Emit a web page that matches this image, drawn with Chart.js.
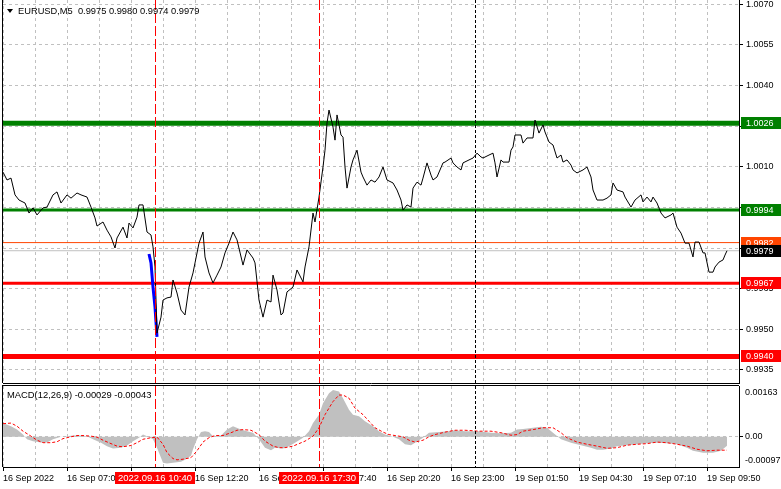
<!DOCTYPE html>
<html>
<head>
<meta charset="utf-8">
<script src="https://cdn.jsdelivr.net/npm/chart.js@4.4.0/dist/chart.umd.min.js"></script>
<style>
  html, body { margin: 0; padding: 0; background: #fff; }
  #wrap { position: relative; width: 781px; height: 489px; overflow: hidden; }
  #priceBox { position: absolute; left: 0; top: 0; width: 781px; height: 384px; }
  #macdBox { position: absolute; left: 0; top: 384px; width: 781px; height: 105px; }
</style>
</head>
<body>
<div id="wrap">
  <div id="priceBox"><canvas id="priceChart" width="781" height="384"></canvas></div>
  <div id="macdBox"><canvas id="macdChart" width="781" height="105"></canvas></div>
</div>
<script>
// EURUSD M5 - x is counted in 5 minute bars from the left edge of the window
const barCount = 368;
const headerQuote = ['0.9975', '0.9980', '0.9974', '0.9979'];

const closeBars = [
  0, 2, 4, 6, 8, 11, 13, 15, 17, 20, 22, 25, 27, 29, 32, 34, 37, 39, 42, 44,
  46, 47, 50, 52, 54, 56, 57, 60, 62, 63, 65, 67, 68, 70, 72, 74, 75, 76, 77, 79,
  80, 82, 84, 85, 87, 89, 91, 93, 95, 96, 98, 100, 101, 103, 105, 107, 109, 111, 113, 115,
  117, 120, 122, 125, 126, 128, 130, 132, 134, 135, 137, 139, 140, 142, 145, 147, 150, 151, 153, 155,
  156, 158, 160, 161, 162, 163, 165, 166, 167, 169, 170, 171, 172, 174, 175, 177, 179, 180, 182, 184,
  186, 188, 190, 192, 195, 197, 199, 200, 202, 204, 205, 207, 209, 210, 212, 214, 215, 217, 220, 221,
  224, 225, 227, 229, 230, 233, 235, 237, 239, 240, 243, 245, 246, 247, 249, 250, 253, 254, 255, 256,
  259, 260, 262, 265, 266, 268, 270, 271, 273, 275, 277, 279, 280, 282, 284, 285, 287, 290, 292, 294,
  295, 297, 300, 302, 304, 305, 307, 310, 311, 314, 316, 319, 320, 322, 324, 325, 327, 329, 331, 334,
  335, 337, 339, 341, 343, 345, 346, 348, 350, 351, 353, 355, 356, 358, 360, 361, 362
];
const closePrices = [
  1.00080, 1.00051, 1.00058, 0.99996, 0.99977, 0.99966, 0.99929, 0.99948, 0.99922, 0.99948,
  0.99951, 0.99996, 1.00007, 0.99966, 0.99996, 0.99984, 1.00003, 0.99996, 0.99988, 0.99951,
  0.99911, 0.99881, 0.99896, 0.99866, 0.99841, 0.99800, 0.99837, 0.99877, 0.99837, 0.99892,
  0.99874, 0.99914, 0.99959, 0.99959, 0.99859, 0.99848, 0.99804, 0.99730, 0.99486, 0.99545,
  0.99608, 0.99616, 0.99619, 0.99682, 0.99634, 0.99571, 0.99553, 0.99656, 0.99708, 0.99745,
  0.99818, 0.99859, 0.99767, 0.99708, 0.99671, 0.99700, 0.99730, 0.99782, 0.99818, 0.99859,
  0.99830, 0.99737, 0.99793, 0.99763, 0.99745, 0.99608, 0.99545, 0.99608, 0.99601, 0.99700,
  0.99645, 0.99553, 0.99560, 0.99638, 0.99656, 0.99719, 0.99675, 0.99730, 0.99804, 0.99929,
  0.99896, 0.99988, 1.00099, 1.00161, 1.00261, 1.00309, 1.00246, 1.00198, 1.00291, 1.00217,
  1.00209, 1.00099, 1.00021, 1.00099, 1.00125, 1.00161, 1.00080, 1.00062, 1.00032, 1.00051,
  1.00043, 1.00062, 1.00099, 1.00051, 1.00040, 1.00014, 0.99977, 0.99940, 0.99959, 0.99951,
  1.00021, 1.00043, 1.00032, 1.00058, 1.00114, 1.00069, 1.00051, 1.00062, 1.00114, 1.00117,
  1.00132, 1.00114, 1.00099, 1.00088, 1.00114, 1.00125, 1.00132, 1.00150, 1.00136, 1.00132,
  1.00143, 1.00150, 1.00114, 1.00062, 1.00125, 1.00117, 1.00117, 1.00161, 1.00173, 1.00217,
  1.00217, 1.00187, 1.00206, 1.00206, 1.00272, 1.00224, 1.00254, 1.00228, 1.00191, 1.00180,
  1.00132, 1.00143, 1.00117, 1.00125, 1.00106, 1.00088, 1.00077, 1.00088, 1.00099, 1.00062,
  1.00014, 0.99977, 0.99977, 0.99984, 0.99996, 1.00040, 1.00014, 1.00007, 0.99988, 0.99951,
  0.99977, 0.99996, 0.99970, 0.99988, 0.99970, 0.99988, 0.99966, 0.99929, 0.99911, 0.99922,
  0.99929, 0.99877, 0.99855, 0.99818, 0.99818, 0.99767, 0.99822, 0.99822, 0.99782, 0.99782,
  0.99711, 0.99711, 0.99730, 0.99748, 0.99756, 0.99774, 0.99790
];

// blue trend line drawn on the drop at 10:40
const moveBars = [73, 74, 75, 76, 77];
const movePrices = [0.99778, 0.99745, 0.99656, 0.99582, 0.99472];

// horizontal levels: 1.0026 / 0.9994 green, 0.9982 ask, 0.9979 bid, 0.9967 / 0.9940 red
const levelPrices = [1.0026, 0.9994, 0.9982, 0.9979, 0.9967, 0.9940];
const levelText = ['1.0026', '0.9994', '0.9982', '0.9979', '0.9967', '0.9940'];

// vertical markers
const markerBars = [76, 158, 236];
const markerText = ['2022.09.16 10:40', '2022.09.16 17:30', ''];

const priceTicks = [0.9935, 0.9950, 0.9965, 0.9980, 0.9995, 1.0010, 1.0025, 1.0040, 1.0055, 1.0070];
const priceMin = 0.99302, priceMax = 1.00715;

const gridStep = 16;   // bars between vertical grid lines
const labelStep = 32;  // bars between time labels
const timeLabels = ['16 Sep 2022', '16 Sep 07:00', '16 Sep 09:40', '16 Sep 12:20', '16 Sep 15:00', '16 Sep 17:40',
  '16 Sep 20:20', '16 Sep 23:00', '19 Sep 01:50', '19 Sep 04:30', '19 Sep 07:10', '19 Sep 09:50'];

// MACD(12,26,9)
const macdTitle = 'MACD(12,26,9) -0.00029 -0.00043';
const histBars = [
  0, 4, 7, 10, 12, 15, 19, 22, 25, 29, 32, 35, 39, 42, 45, 49, 52, 55, 59, 62,
  65, 68, 70, 72, 75, 77, 79, 80, 82, 85, 89, 91, 94, 95, 97, 99, 101, 103, 105, 109,
  112, 115, 119, 122, 125, 128, 131, 134, 136, 140, 143, 146, 150, 153, 155, 158, 160, 163, 165, 168,
  170, 173, 175, 178, 181, 185, 188, 191, 195, 198, 201, 204, 206, 210, 213, 218, 223, 226, 231, 238,
  244, 249, 254, 257, 260, 265, 269, 272, 275, 279, 284, 289, 294, 297, 300, 304, 307, 312, 317, 322,
  327, 332, 337, 342, 345, 350, 355, 359, 362
];
const histValues = [
  0.00044, 0.00034, 0.00023, 0.00007, -0.00008, -0.00014, -0.00018, -0.00018, -0.00008, 0.00000,
  0.00002, 0.00004, 0.00004, 0.00002, -0.00008, -0.00019, -0.00030, -0.00038, -0.00035, -0.00028,
  -0.00014, -0.00003, 0.00007, 0.00002, -0.00008, -0.00035, -0.00067, -0.00083, -0.00086, -0.00083,
  -0.00080, -0.00074, -0.00061, -0.00040, -0.00008, 0.00015, 0.00018, 0.00015, 0.00002, 0.00004,
  0.00023, 0.00034, 0.00023, 0.00018, 0.00013, -0.00008, -0.00035, -0.00043, -0.00035, -0.00038,
  -0.00030, -0.00019, -0.00003, 0.00018, 0.00044, 0.00071, 0.00108, 0.00140, 0.00150, 0.00145,
  0.00124, 0.00087, 0.00071, 0.00066, 0.00050, 0.00034, 0.00018, 0.00007, 0.00000, -0.00008,
  -0.00024, -0.00027, -0.00019, -0.00003, 0.00013, 0.00015, 0.00018, 0.00021, 0.00018, 0.00018,
  0.00013, 0.00011, 0.00013, 0.00023, 0.00025, 0.00029, 0.00032, 0.00029, 0.00013, -0.00008,
  -0.00019, -0.00027, -0.00035, -0.00042, -0.00042, -0.00038, -0.00030, -0.00027, -0.00024, -0.00021,
  -0.00019, -0.00021, -0.00024, -0.00035, -0.00045, -0.00051, -0.00051, -0.00045, -0.00029
];
const signalBars = [
  0, 4, 7, 10, 14, 17, 20, 24, 27, 30, 34, 37, 40, 44, 47, 50, 54, 57, 60, 64,
  67, 70, 74, 77, 80, 82, 85, 87, 90, 94, 97, 100, 103, 106, 110, 114, 117, 120, 124, 128,
  131, 135, 138, 141, 145, 148, 151, 155, 158, 161, 165, 168, 170, 173, 176, 180, 183, 186, 190, 193,
  196, 200, 203, 206, 210, 213, 216, 221, 226, 231, 238, 244, 249, 254, 257, 260, 265, 270, 275, 279,
  282, 287, 292, 297, 302, 307, 312, 317, 322, 327, 332, 337, 342, 347, 352, 357, 362
];
const signalValues = [
  0.00042, 0.00044, 0.00034, 0.00018, 0.00002, -0.00011, -0.00019, -0.00019, -0.00016, -0.00006,
  0.00000, 0.00004, 0.00004, 0.00002, -0.00001, -0.00011, -0.00022, -0.00030, -0.00032, -0.00028,
  -0.00019, -0.00008, -0.00003, -0.00001, -0.00024, -0.00051, -0.00070, -0.00074, -0.00072, -0.00067,
  -0.00045, -0.00017, -0.00003, 0.00004, 0.00004, 0.00013, 0.00021, 0.00023, 0.00021, 0.00007,
  -0.00014, -0.00030, -0.00035, -0.00035, -0.00030, -0.00022, -0.00014, 0.00002, 0.00029, 0.00071,
  0.00113, 0.00134, 0.00134, 0.00124, 0.00092, 0.00071, 0.00050, 0.00029, 0.00015, 0.00007,
  0.00004, 0.00000, -0.00011, -0.00017, -0.00011, 0.00000, 0.00007, 0.00015, 0.00021, 0.00021,
  0.00018, 0.00018, 0.00013, 0.00005, 0.00007, 0.00018, 0.00023, 0.00029, 0.00029, 0.00013,
  -0.00003, -0.00017, -0.00024, -0.00030, -0.00037, -0.00035, -0.00027, -0.00024, -0.00022, -0.00017,
  -0.00019, -0.00024, -0.00030, -0.00040, -0.00045, -0.00043, -0.00043
];
const macdMin = -0.00097, macdMax = 0.00163;
const macdTickText = ['-0.00097', '0.00', '0.00163'];

const FONT = "'Liberation Sans', Arial, sans-serif";
Chart.defaults.font.family = FONT;
Chart.defaults.font.size = 9;
Chart.defaults.color = '#000';

const levelStyle = [
  { color: '#008000', width: 5, box: '#008000', fg: '#ffffff' },
  { color: '#008000', width: 3, box: '#008000', fg: '#ffffff' },
  { color: '#ff4500', width: 1, box: '#ff4500', fg: '#ffffff' },
  { color: '#c0c0c0', width: 1, box: '#000000', fg: '#ffffff' },
  { color: '#ff0000', width: 3, box: '#ff0000', fg: '#ffffff' },
  { color: '#ff0000', width: 5, box: '#ff0000', fg: '#ffffff' }
];
const markerStyle = [
  { color: '#ff0000', dash: [10, 3] },
  { color: '#ff0000', dash: [10, 3] },
  { color: '#000000', dash: [3, 2] }
];

const gridBars = [];
for (let b = 0; b < barCount; b += gridStep) gridBars.push(b);

function pts(xs, ys) {
  return xs.map((x, i) => ({ x: x, y: ys[i] }));
}

// keep the plot area where the terminal has it: no extra room for edge labels
function noEdgePadding(s) {
  s.paddingTop = 0;
  s.paddingBottom = 0;
  s.paddingLeft = 0;
  s.paddingRight = 0;
}

function drawMarkers(chart) {
  const ctx = chart.ctx, area = chart.chartArea, xs = chart.scales.x;
  ctx.save();
  ctx.lineWidth = 1;
  markerBars.forEach((b, i) => {
    const x = Math.round(xs.getPixelForValue(b)) + 0.5;
    ctx.strokeStyle = markerStyle[i].color;
    ctx.setLineDash(markerStyle[i].dash);
    ctx.beginPath();
    ctx.moveTo(x, area.top);
    ctx.lineTo(x, area.bottom);
    ctx.stroke();
  });
  ctx.restore();
}

function drawFrameLeft(chart, withTop) {
  const ctx = chart.ctx, area = chart.chartArea;
  ctx.save();
  ctx.strokeStyle = '#000';
  ctx.lineWidth = 1;
  ctx.beginPath();
  ctx.moveTo(area.left - 0.5, area.top);
  ctx.lineTo(area.left - 0.5, area.bottom);
  if (withTop) {
    ctx.moveTo(area.left - 1, area.top - 0.5);
    ctx.lineTo(area.right, area.top - 0.5);
  }
  ctx.stroke();
  ctx.restore();
}

const priceDecor = {
  id: 'priceDecor',
  afterDatasetsDraw(chart) {
    drawMarkers(chart);
    drawFrameLeft(chart, false);
  },
  afterDraw(chart) {
    const ctx = chart.ctx, area = chart.chartArea, ys = chart.scales.y;
    ctx.save();
    ctx.font = '9px ' + FONT;
    ctx.textBaseline = 'middle';
    // level price tags on the axis
    levelPrices.forEach((p, i) => {
      const y = Math.round(ys.getPixelForValue(p));
      ctx.fillStyle = levelStyle[i].box;
      ctx.fillRect(area.right + 2, y - 6, chart.width - area.right - 2, 12);
      ctx.fillStyle = levelStyle[i].fg;
      ctx.fillText(levelText[i], area.right + 7, y + 0.5);
    });
    // symbol header
    ctx.fillStyle = '#000';
    ctx.beginPath();
    ctx.moveTo(7, 9);
    ctx.lineTo(13, 9);
    ctx.lineTo(10, 13);
    ctx.closePath();
    ctx.fill();
    ctx.font = '9.3px ' + FONT;
    ctx.fillText('EURUSD,M5  ' + headerQuote.join(' '), 18, 11);
    ctx.restore();
  }
};

const macdDecor = {
  id: 'macdDecor',
  afterDatasetsDraw(chart) {
    drawMarkers(chart);
    drawFrameLeft(chart, true);
  },
  afterDraw(chart) {
    const ctx = chart.ctx, xs = chart.scales.x;
    ctx.save();
    ctx.textBaseline = 'middle';
    ctx.font = '9.4px ' + FONT;
    ctx.fillStyle = '#000';
    ctx.fillText(macdTitle, 7, 11.5);
    // time tags of the vertical markers
    ctx.font = '9.5px ' + FONT;
    ctx.textAlign = 'center';
    markerBars.forEach((b, i) => {
      if (!markerText[i]) return;
      const x = xs.getPixelForValue(b);
      ctx.fillStyle = '#ff0000';
      ctx.fillRect(Math.round(x - 40), 88, 80, 12);
      ctx.fillStyle = '#ffffff';
      ctx.fillText(markerText[i], x, 94.5);
    });
    ctx.restore();
  }
};

new Chart(document.getElementById('priceChart'), {
  type: 'line',
  data: {
    datasets: [
      { label: 'EURUSD', data: pts(closeBars, closePrices), borderColor: '#000', borderWidth: 1,
        pointRadius: 0, tension: 0, order: 0 },
      { label: 'move', data: pts(moveBars, movePrices), borderColor: '#0000ff', borderWidth: 3,
        pointRadius: 0, tension: 0, order: 1 }
    ].concat(levelPrices.map((p, i) => ({
      label: levelText[i], data: [{ x: 0, y: p }, { x: barCount, y: p }],
      borderColor: levelStyle[i].color, borderWidth: levelStyle[i].width, pointRadius: 0, order: 2
    })))
  },
  options: {
    responsive: false,
    devicePixelRatio: 1,
    animation: false,
    events: [],
    layout: { padding: { left: 3, top: 0, right: 0, bottom: 0 } },
    plugins: { legend: { display: false }, tooltip: { enabled: false } },
    scales: {
      x: {
        type: 'linear', min: 0, max: barCount,
        afterBuildTicks: s => { s.ticks = gridBars.map(v => ({ value: v })); },
        afterFit: s => { s.height = 1; noEdgePadding(s); },
        ticks: { display: false },
        grid: { color: '#c0c0c0', drawTicks: false },
        border: { display: true, color: '#000', dash: [3, 3] }
      },
      y: {
        position: 'right', min: priceMin, max: priceMax,
        afterBuildTicks: s => { s.ticks = priceTicks.map(v => ({ value: v })); },
        afterFit: s => { s.width = 42; noEdgePadding(s); },
        ticks: { callback: v => v.toFixed(4), padding: 3 },
        grid: { color: '#c0c0c0', tickColor: '#000', tickLength: 4 },
        border: { display: true, color: '#000', dash: [3, 3] }
      }
    }
  },
  plugins: [priceDecor]
});

new Chart(document.getElementById('macdChart'), {
  type: 'line',
  data: {
    datasets: [
      { label: 'MACD', data: pts(histBars, histValues), borderWidth: 0, borderColor: 'rgba(0,0,0,0)',
        backgroundColor: '#c0c0c0', fill: 'origin', pointRadius: 0, tension: 0, order: 2 },
      { label: 'Signal', data: pts(signalBars, signalValues), borderColor: '#ff0000', borderWidth: 1,
        borderDash: [3, 2], pointRadius: 0, tension: 0, fill: false, order: 1 }
    ]
  },
  options: {
    responsive: false,
    devicePixelRatio: 1,
    animation: false,
    events: [],
    layout: { padding: { left: 3, top: 2, right: 0, bottom: 0 } },
    plugins: { legend: { display: false }, tooltip: { enabled: false } },
    scales: {
      x: {
        type: 'linear', min: 0, max: barCount,
        afterBuildTicks: s => { s.ticks = gridBars.map(v => ({ value: v })); },
        afterFit: s => { s.height = 22; noEdgePadding(s); },
        ticks: {
          autoSkip: false, maxRotation: 0, minRotation: 0, align: 'start', padding: 2,
          callback: v => (v % labelStep === 0 ? timeLabels[v / labelStep] : '')
        },
        grid: {
          color: '#c0c0c0', tickLength: 4,
          tickColor: c => (c.tick && c.tick.value % labelStep === 0 ? '#000' : 'rgba(0,0,0,0)')
        },
        border: { display: true, color: '#000', dash: [3, 3] }
      },
      y: {
        position: 'right', min: macdMin, max: macdMax,
        afterBuildTicks: s => {
          const inset = (macdMax - macdMin) * 0.085;
          s.ticks = [macdMin + inset, 0, macdMax - inset].map(v => ({ value: v }));
        },
        afterFit: s => { s.width = 42; noEdgePadding(s); },
        ticks: { callback: (v, i) => macdTickText[i], padding: 2 },
        grid: {
          tickLength: 4,
          color: c => (c.tick && c.tick.value === 0 ? '#c0c0c0' : 'rgba(0,0,0,0)'),
          tickColor: c => (c.tick && c.tick.value === 0 ? '#000' : 'rgba(0,0,0,0)')
        },
        border: { display: true, color: '#000', dash: [3, 3] }
      }
    }
  },
  plugins: [macdDecor]
});
</script>
</body>
</html>
